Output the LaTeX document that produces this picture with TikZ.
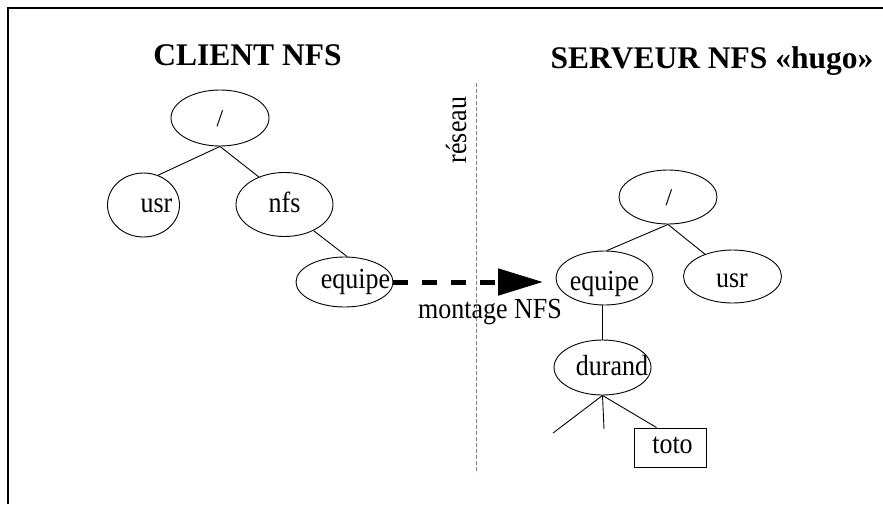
\documentclass[tikz,border=0pt]{standalone}
\usepackage{fontspec}
\setmainfont{Liberation Serif}
\usetikzlibrary{arrows.meta,shapes.geometric,calc}
\newcommand{\tallt}[1]{\scalebox{1}[1.12]{#1}}
\begin{document}
\begin{tikzpicture}[x=1pt,y=-1pt,
  ell/.style={draw,ellipse,line width=0.9pt,inner sep=0pt},
  box/.style={draw,rectangle,line width=0.9pt,inner sep=0pt},
  conn/.style={line width=0.9pt},
  lab/.style={font=\fontsize{26}{30}\selectfont,anchor=base,inner sep=0pt},
  slash/.style={font=\fontsize{24}{28}\selectfont,anchor=base,inner sep=0pt},
  ttl/.style={font=\bfseries\fontsize{31.5}{36}\selectfont,anchor=base,inner sep=0pt},
  net/.style={draw=gray,line width=0.6pt,dash pattern=on 4pt off 2pt},
  mount/.style={line width=5pt,dash pattern=on 15pt off 14pt,-{Triangle[length=45pt,width=26pt]}},
  frame/.style={line width=1.5pt}]
\useasboundingbox (0,0) rectangle (883,504);
% frame
\coordinate (fa) at (8,504);
\coordinate (fb) at (8,8);
\coordinate (fc) at (883,8);
\draw[frame] (fa) -- (fb) -- (fc);
% titles
\node[ttl] (tclient) at (247.5,65) {CLIENT NFS};
\node[ttl] (tserver) at (712,68) {SERVEUR NFS «hugo»};
% network line
\coordinate (na) at (476,83);
\coordinate (nb) at (476,473);
\draw[net] (na) -- (nb);
\node[lab,rotate=90] (treseau) at (466,130) {\tallt{réseau}};
% client tree
\node[ell,minimum width=98pt,minimum height=56pt] (croot) at (220,118) {};
\node[ell,minimum width=72pt,minimum height=64pt] (cusr) at (143.5,205) {};
\node[ell,minimum width=97pt,minimum height=64pt] (cnfs) at (284.5,204.5) {};
\node[ell,minimum width=97pt,minimum height=50pt] (cequipe) at (344.5,282) {};
\node[slash] (lcroot) at (220,126) {/};
\node[lab] (lcusr) at (156.5,212) {\tallt{usr}};
\node[lab] (lcnfs) at (284.5,212) {\tallt{nfs}};
\node[lab] (lcequipe) at (355.5,288) {\tallt{equipe}};
\draw[conn] (croot.south) -- (cusr.64);
\draw[conn] (croot.south) -- (cnfs.133);
\draw[conn] (cnfs.-42) -- (cequipe.84);
% server tree
\node[ell,minimum width=98pt,minimum height=54pt] (sroot) at (668,197) {};
\node[ell,minimum width=97pt,minimum height=54pt] (sequipe) at (604.5,278) {};
\node[ell,minimum width=98pt,minimum height=53pt] (susr) at (732.5,276.5) {};
\node[ell,minimum width=97pt,minimum height=55pt] (sdurand) at (602.5,367.5) {};
\node[box,minimum width=72pt,minimum height=39pt] (toto) at (670,447.5) {};
\node[slash] (lsroot) at (669,205) {/};
\node[lab] (lsequipe) at (604.5,290) {\tallt{equipe}};
\node[lab] (lsusr) at (732,287) {\tallt{usr}};
\node[lab] (lsdurand) at (612,375) {\tallt{durand}};
\node[lab] (ltoto) at (672.5,453) {\tallt{toto}};
\draw[conn] (sroot.south) -- (sequipe.85);
\draw[conn] (sroot.south) -- (susr.141);
\draw[conn] (sdurand.north) -- (sdurand.north |- sequipe.south);
\coordinate (leafa) at (553,433);
\coordinate (leafb) at (604,429);
\draw[conn] (sdurand.south) -- (leafa);
\draw[conn] (sdurand.south) -- (leafb);
\draw[conn] (sdurand.south) -- (toto.124);
% mount arrow
\coordinate (mtip) at (543,282);
\draw[mount] (cequipe.east) -- (mtip);
\node[lab] (lmount) at (490,318) {\tallt{montage NFS}};
\end{tikzpicture}
\end{document}
